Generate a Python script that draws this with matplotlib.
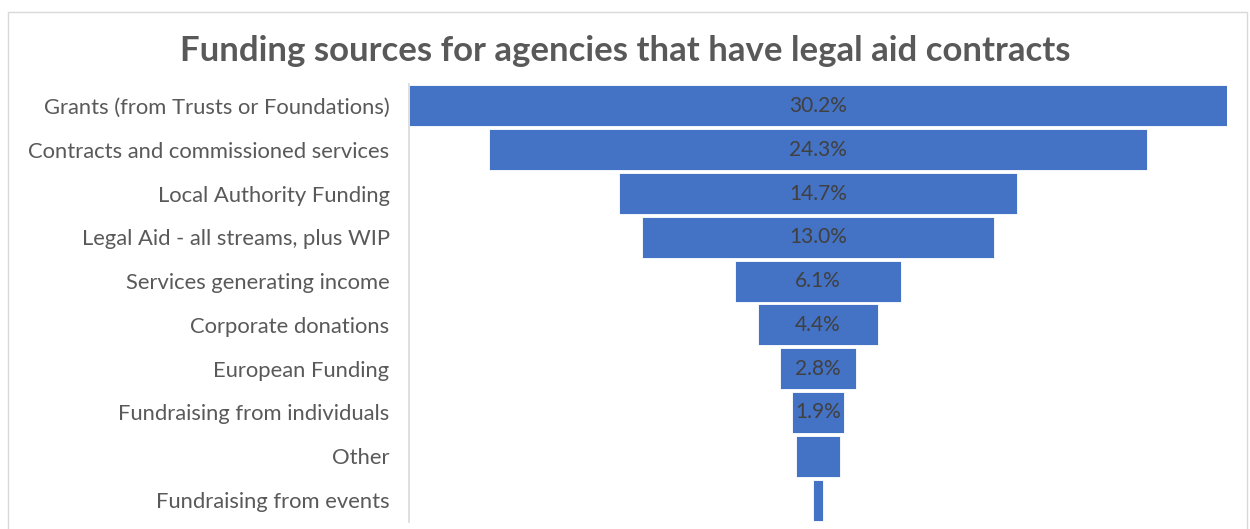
import matplotlib
matplotlib.use("Agg")
import matplotlib.pyplot as plt
from matplotlib.patches import Rectangle

categories = [
    "Grants (from Trusts or Foundations)",
    "Contracts and commissioned services",
    "Local Authority Funding",
    "Legal Aid - all streams, plus WIP",
    "Services generating income",
    "Corporate donations",
    "European Funding",
    "Fundraising from individuals",
    "Other",
    "Fundraising from events",
]
values = [30.2, 24.3, 14.7, 13.0, 6.1, 4.4, 2.8, 1.9, 1.6, 0.4]
# data labels that fit inside their bars
show_label = [True, True, True, True, True, True, True, True, False, False]

title = "Funding sources for agencies that have legal aid contracts"

plt.rcParams["font.family"] = ["Lato", "DejaVu Sans"]

fig = plt.figure(figsize=(12.5, 5.29), dpi=100)
fig.patch.set_facecolor("white")

# outer chart frame
fig.add_artist(Rectangle((8 / 1250, -0.01), 1239 / 1250, 1 - 12 / 529 + 0.01,
                         transform=fig.transFigure, fill=False,
                         edgecolor="#d9d9d9", linewidth=1.0))

ax = fig.add_axes([409 / 1250, 7 / 529, (1227 - 409) / 1250, (522 - 84) / 529])

bar_color = "#4472C4"
ypos = list(range(len(categories)))
lefts = [-v / 2 for v in values]
ax.barh(ypos, values, left=lefts, height=0.94, color=bar_color,
        edgecolor="white", linewidth=0.6)

for y, v, s in zip(ypos, values, show_label):
    if s:
        ax.text(0, y, f"{v:.1f}%", ha="center", va="center",
                fontsize=15, color="#404040")

half = max(values) / 2
ax.set_xlim(-half, half)
ax.set_ylim(len(categories) - 0.5, -0.5)
ax.set_yticks(ypos)
ax.set_yticklabels(categories, fontsize=15.8, color="#595959")
ax.tick_params(axis="y", length=0, pad=14)
ax.set_xticks([])
for side in ["top", "right", "bottom"]:
    ax.spines[side].set_visible(False)
ax.spines["left"].set_color("#d9d9d9")
ax.spines["left"].set_linewidth(1.2)

fig.text(0.5, 1 - 51 / 529, title, ha="center", va="center",
         fontsize=25, fontweight="bold", color="#595959")

fig.savefig("out.png", dpi=100, facecolor="white")
